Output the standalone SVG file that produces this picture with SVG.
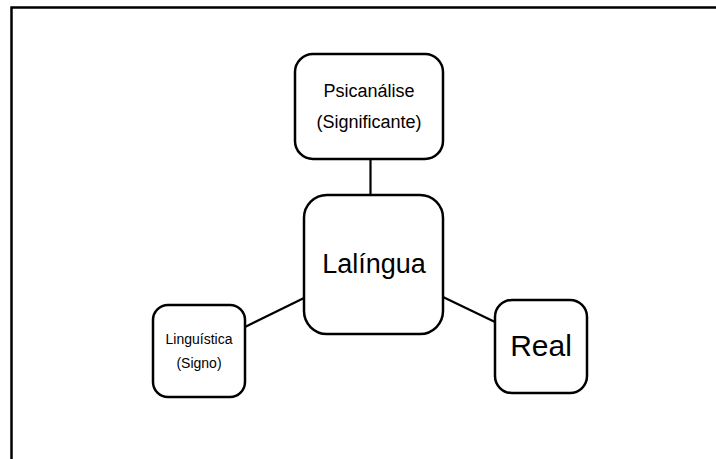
<svg xmlns="http://www.w3.org/2000/svg" width="716" height="459" viewBox="0 0 716 459">
<style>
.box{fill:#fff;stroke:#000;stroke-width:2.5}
.conn line{stroke:#000;stroke-width:2.2}
text{font-family:"Liberation Sans",Arial,sans-serif;fill:#000;text-anchor:middle}
</style>
<rect x="0" y="0" width="716" height="459" fill="#fff"/>
<path d="M11.5,459 V7.5 H716" fill="none" stroke="#000" stroke-width="2.5"/>
<g id="connectors" class="conn">
<line x1="370.5" y1="159" x2="370.5" y2="195"/>
<line x1="245" y1="327" x2="304" y2="298"/>
<line x1="443" y1="297" x2="495" y2="322"/>
</g>
<g id="psicanalise">
<rect class="box" x="295" y="54" width="148" height="105" rx="18"/>
<text x="369" y="97" font-size="18">Psicanálise</text>
<text x="369" y="128" font-size="18">(Significante)</text>
</g>
<g id="lalingua">
<rect class="box" x="304" y="195" width="139" height="139" rx="23"/>
<text x="374" y="273" font-size="27">Lalíngua</text>
</g>
<g id="linguistica">
<rect class="box" x="153" y="305" width="92" height="92" rx="15"/>
<text x="199" y="344" font-size="14">Linguística</text>
<text x="199" y="368" font-size="14">(Signo)</text>
</g>
<g id="real">
<rect class="box" x="495" y="300" width="92" height="93" rx="17"/>
<text x="541" y="356" font-size="30">Real</text>
</g>
</svg>
